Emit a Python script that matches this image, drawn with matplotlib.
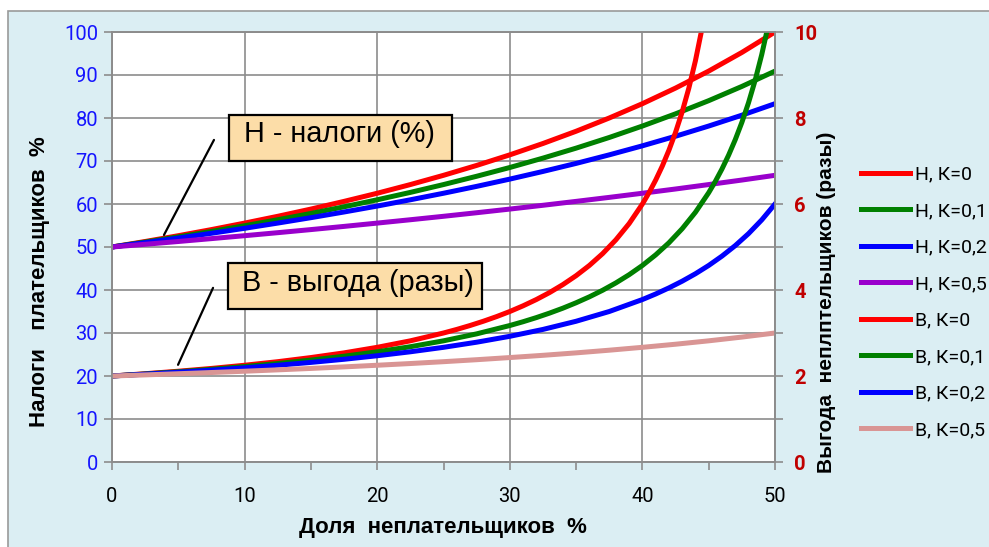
import matplotlib.pyplot as plt
from matplotlib.patches import Rectangle

plt.rcParams['font.family'] = ['Roboto', 'DejaVu Sans']
ARIAL = ['Liberation Sans', 'DejaVu Sans']

# доля неплательщиков, %
x = [0, 2.5, 5, 7.5, 10, 12.5, 15, 17.5, 20, 22.5, 25, 27.5, 30, 32.5, 35,
     37.5, 40, 42.5, 45, 47.5, 50]

# налоги плательщиков, % (левая ось)
h_k0 = [50, 51.28, 52.63, 54.05, 55.56, 57.14, 58.82, 60.61, 62.5, 64.52, 66.67,
        68.97, 71.43, 74.07, 76.92, 80.0, 83.33, 86.96, 90.91, 95.24, 100]
h_k01 = [50, 51.15, 52.36, 53.62, 54.95, 56.34, 57.80, 59.35, 60.98, 62.70, 64.52,
         66.45, 68.49, 70.67, 72.99, 75.47, 78.13, 80.97, 84.03, 87.34, 90.91]
h_k02 = [50, 51.02, 52.08, 53.19, 54.35, 55.56, 56.82, 58.14, 59.52, 60.98, 62.5,
         64.10, 65.79, 67.57, 69.44, 71.43, 73.53, 75.76, 78.13, 80.65, 83.33]
h_k05 = [50, 50.63, 51.28, 51.95, 52.63, 53.33, 54.05, 54.79, 55.56, 56.34, 57.14,
         57.97, 58.82, 59.70, 60.61, 61.54, 62.5, 63.49, 64.52, 65.57, 66.67]

# выгода неплательщиков, разы (правая ось)
xb_k0 = [0, 2.5, 5, 7.5, 10, 12.5, 15, 17.5, 20, 22.5, 25, 26, 27, 28, 29, 30,
         31, 32, 33, 34, 35, 36, 37, 38, 39, 40, 40.5, 41, 41.5, 42, 42.5, 43,
         43.5, 44, 44.5]
b_k0 = [2, 2.053, 2.111, 2.176, 2.25, 2.333, 2.429, 2.538, 2.667, 2.818, 3.0,
        3.083, 3.174, 3.273, 3.381, 3.5, 3.632, 3.778, 3.941, 4.125, 4.333,
        4.571, 4.846, 5.167, 5.545, 6.0, 6.263, 6.556, 6.882, 7.25, 7.667,
        8.143, 8.692, 9.333, 10.09]
xb_k01 = [0, 2.5, 5, 7.5, 10, 12.5, 15, 17.5, 20, 22.5, 25, 27.5, 30, 31, 32,
          33, 34, 35, 36, 37, 38, 39, 40, 41, 42, 43, 44, 45, 45.5, 46, 46.5,
          47, 47.5, 48, 48.5, 49, 49.5]
b_k01 = [2, 2.047, 2.099, 2.156, 2.220, 2.290, 2.370, 2.460, 2.563, 2.681, 2.818,
         2.980, 3.174, 3.262, 3.358, 3.463, 3.577, 3.703, 3.841, 3.994, 4.165,
         4.356, 4.571, 4.817, 5.098, 5.425, 5.808, 6.263, 6.525, 6.814, 7.135,
         7.494, 7.897, 8.353, 8.874, 9.475, 10.17]
xb_k02 = [0, 2.5, 5, 7.5, 10, 12.5, 15, 17.5, 20, 22.5, 25, 27.5, 30, 32.5, 35,
          37.5, 40, 41, 42, 43, 44, 45, 46, 47, 48, 49, 50]
b_k02 = [2, 2.042, 2.087, 2.136, 2.190, 2.25, 2.316, 2.389, 2.471, 2.563, 2.667,
         2.786, 2.923, 3.083, 3.273, 3.5, 3.778, 3.907, 4.049, 4.205, 4.378,
         4.571, 4.788, 5.032, 5.310, 5.630, 6.0]
b_k05 = [2, 2.026, 2.053, 2.081, 2.111, 2.143, 2.176, 2.212, 2.25, 2.290, 2.333,
         2.379, 2.429, 2.481, 2.538, 2.6, 2.667, 2.739, 2.818, 2.905, 3.0]

fig = plt.figure(figsize=(9.89, 5.47), dpi=100, facecolor='white')
fig.patches.append(Rectangle((8 / 989, -0.01), 1.0, 1 - 11 / 547 + 0.01,
                             transform=fig.transFigure, facecolor='#DBEEF3',
                             edgecolor='#9a9a9a', lw=1.2, zorder=-10))

ax = fig.add_axes([112 / 989, 1 - 462 / 547, 663 / 989, 430 / 547])
ax.set_facecolor('white')
ax2 = ax.twinx()

lw = 3.6
l1, = ax.plot(x, h_k0, color='#FF0000', lw=lw, label='Н, К=0')
l2, = ax.plot(x, h_k01, color='#008000', lw=lw, label='Н, К=0,1')
l3, = ax.plot(x, h_k02, color='#0000FF', lw=lw, label='Н, К=0,2')
l4, = ax.plot(x, h_k05, color='#9900CC', lw=lw, label='Н, К=0,5')
l5, = ax2.plot(xb_k0, b_k0, color='#FF0000', lw=lw, label='В, К=0')
l6, = ax2.plot(xb_k01, b_k01, color='#008000', lw=lw, label='В, К=0,1')
l7, = ax2.plot(xb_k02, b_k02, color='#0000FF', lw=lw, label='В, К=0,2')
l8, = ax2.plot(x, b_k05, color='#D99594', lw=lw, label='В, К=0,5')

ax.set_xlim(0, 50)
ax.set_ylim(0, 100)
ax2.set_ylim(0, 10)
ax.set_xticks(range(0, 51, 10))
ax.set_xticks(range(5, 50, 10), minor=True)
ax.set_yticks(range(0, 101, 10))
ax2.set_yticks(range(0, 11))
ax2.set_yticklabels([str(v) if v % 2 == 0 else '' for v in range(0, 11)])
ax.grid(True, which='major', color='#8c8c8c', lw=1.2)
ax.set_axisbelow(True)

for a in (ax, ax2):
    for s in a.spines.values():
        s.set_color('#8c8c8c')
        s.set_linewidth(1.2)
ax.tick_params(axis='x', which='both', direction='out', length=6, width=1.2,
               color='#8c8c8c', labelsize=14.5, pad=12, labelcolor='black')
ax.tick_params(axis='y', direction='out', length=6, width=1.2, color='#8c8c8c',
               labelsize=14.5, labelcolor='#1515FF', pad=4)
ax2.tick_params(axis='y', direction='out', length=6, width=1.2, color='#8c8c8c',
                labelsize=14.5, labelcolor='#C00000', pad=8)
for t in ax2.get_yticklabels():
    t.set_fontweight('bold')

fig.text(443 / 989, 1 - 527 / 547, 'Доля  неплательщиков  %', ha='center',
         va='center', fontsize=16, fontweight='bold', family=ARIAL)
fig.text(40 / 989, 1 - 282 / 547, 'Налоги   плательщиков  %', ha='center',
         va='center', rotation=90, fontsize=16, fontweight='bold', family=ARIAL)
fig.text(826 / 989, 1 - 302 / 547, 'Выгода  неплптельщиков (разы)', ha='center',
         va='center', rotation=90, fontsize=15, fontweight='bold', family=ARIAL)

# подписи-выноски
for (bx0, bx1, by0, by1), (tx, ty), txt, (p0, p1) in [
        ((8.82, 25.64, 70.0, 80.7), (9.95, 76.3), 'Н - налоги (%)',
         ((7.69, 74.9), (3.92, 52.8))),
        ((8.75, 27.9, 35.6, 46.3), (9.8, 41.7), 'В - выгода (разы)',
         ((7.62, 40.5), (4.98, 22.6)))]:
    ax.add_patch(Rectangle((bx0, by0), bx1 - bx0, by1 - by0, facecolor='#FCDDA8',
                           edgecolor='black', lw=1.6, zorder=20))
    ax.text(tx, ty, txt, ha='left', va='center', fontsize=20.8, family=ARIAL,
            zorder=21)
    ax.annotate('', xy=p1, xytext=p0, zorder=20,
                arrowprops=dict(arrowstyle='-', color='black', lw=1.6,
                                shrinkA=0, shrinkB=0))

handles = [l1, l2, l3, l4, l5, l6, l7, l8]
fig.legend(handles, [h.get_label() for h in handles], loc='upper left',
           bbox_to_anchor=(853 / 989, 1 - 158 / 547), frameon=False,
           fontsize=14, handlelength=2.55, handletextpad=0.25,
           labelspacing=0.95, borderaxespad=0)

fig.savefig('out.png', dpi=100, facecolor='white')
